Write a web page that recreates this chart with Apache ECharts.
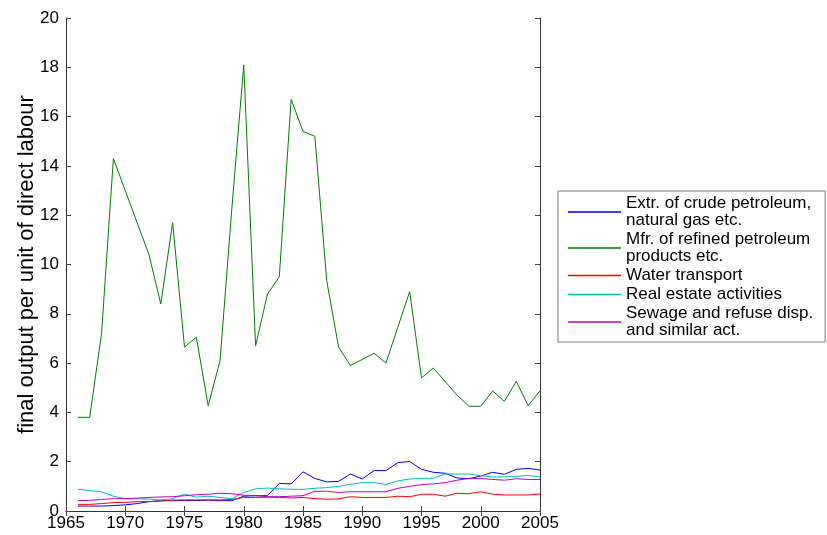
<!DOCTYPE html>
<html>
<head>
<meta charset="utf-8">
<script src="https://cdn.jsdelivr.net/npm/echarts@6/dist/echarts.min.js"></script>
<style>
html,body{margin:0;padding:0;background:#fff;}
#chart{width:827px;height:535px;}
</style>
</head>
<body>
<div id="chart"></div>
<script>
var years = [1966,1967,1968,1969,1970,1971,1972,1973,1974,1975,1976,1977,1978,1979,1980,1981,1982,1983,1984,1985,1986,1987,1988,1989,1990,1991,1992,1993,1994,1995,1996,1997,1998,1999,2000,2001,2002,2003,2004,2005];

var seriesNames = [
  "Extr. of crude petroleum,\nnatural gas etc.",
  "Mfr. of refined petroleum\nproducts etc.",
  "Water transport",
  "Real estate activities",
  "Sewage and refuse disp.\nand similar act."
];

var crudePetroleum = [0.2,0.2,0.2,0.22,0.25,0.3,0.38,0.42,0.42,0.43,0.42,0.44,0.42,0.42,0.6,0.62,0.62,1.12,1.1,1.59,1.32,1.18,1.2,1.5,1.3,1.64,1.64,1.96,2.01,1.69,1.57,1.53,1.34,1.31,1.42,1.57,1.49,1.69,1.73,1.66];

var refinedPetroleum = [3.8,3.8,7.2,14.3,13.0,11.7,10.4,8.4,11.7,6.65,7.05,4.27,6.1,12.3,18.1,6.7,8.8,9.5,16.7,15.4,15.2,9.35,6.65,5.9,6.15,6.4,6.0,7.45,8.9,5.4,5.8,5.25,4.7,4.25,4.25,4.87,4.45,5.26,4.27,4.88];

var waterTransport = [0.27,0.27,0.3,0.34,0.35,0.38,0.38,0.4,0.44,0.45,0.45,0.45,0.45,0.47,0.55,0.55,0.56,0.55,0.53,0.55,0.5,0.48,0.49,0.58,0.55,0.55,0.55,0.6,0.58,0.68,0.68,0.6,0.72,0.7,0.78,0.68,0.65,0.65,0.65,0.69];

var realEstate = [0.88,0.83,0.78,0.6,0.5,0.5,0.48,0.45,0.5,0.68,0.56,0.6,0.55,0.5,0.75,0.9,0.93,0.9,0.88,0.88,0.92,0.95,1.0,1.08,1.15,1.15,1.08,1.22,1.3,1.32,1.33,1.5,1.5,1.5,1.43,1.38,1.38,1.4,1.44,1.38];

var sewage = [0.42,0.43,0.47,0.5,0.5,0.52,0.55,0.57,0.58,0.62,0.66,0.68,0.72,0.7,0.64,0.62,0.58,0.58,0.6,0.62,0.8,0.8,0.75,0.78,0.78,0.78,0.78,0.92,1.0,1.07,1.1,1.15,1.25,1.32,1.32,1.28,1.25,1.31,1.28,1.28];

var seriesValues = [crudePetroleum, refinedPetroleum, waterTransport, realEstate, sewage];
var seriesColors = ['#0000ff', '#008000', '#ff0000', '#00bfbf', '#bf00bf'];

var xMin = 1965, xMax = 2005, xStep = 5;
var yMin = 0, yMax = 20, yStep = 2;
var yTitle = "final output per unit of direct labour";

function pairs(vals) {
  return years.map(function (y, i) { return [y, vals[i]]; });
}

var fontFam = '"Liberation Sans", Arial, sans-serif';
var axisLineStyle = { color: '#333', width: 1 };
var tickStyle = { color: '#444', width: 1 };

var chart = echarts.init(document.getElementById('chart'), null, { renderer: 'canvas' });

var option = {
  animation: false,
  backgroundColor: '#ffffff',
  grid: { left: 66, right: 287, top: 18, bottom: 24, containLabel: false },
  xAxis: [
    {
      type: 'value', min: xMin, max: xMax, interval: xStep, position: 'bottom',
      axisLine: { show: true, lineStyle: axisLineStyle },
      axisTick: { show: true, inside: true, length: 5, lineStyle: tickStyle },
      axisLabel: { color: '#000', fontSize: 17, fontFamily: fontFam, margin: 4,
        formatter: function (v) { return String(v); } },
      splitLine: { show: false }
    },
    {
      type: 'value', min: xMin, max: xMax, interval: xStep, position: 'top',
      axisLine: { show: true, lineStyle: axisLineStyle },
      axisTick: { show: true, inside: true, length: 5, lineStyle: tickStyle },
      axisLabel: { show: false },
      splitLine: { show: false }
    }
  ],
  yAxis: [
    {
      type: 'value', min: yMin, max: yMax, interval: yStep, position: 'left',
      name: yTitle, nameLocation: 'middle', nameGap: 28, nameMoveOverlap: false,
      nameTextStyle: { color: '#000', fontSize: 22, fontFamily: fontFam },
      axisLine: { show: true, lineStyle: axisLineStyle },
      axisTick: { show: true, inside: true, length: 5, lineStyle: tickStyle },
      axisLabel: { color: '#000', fontSize: 17, fontFamily: fontFam, margin: 7,
        formatter: function (v) { return String(v); } },
      splitLine: { show: false }
    },
    {
      type: 'value', min: yMin, max: yMax, interval: yStep, position: 'right',
      axisLine: { show: true, lineStyle: axisLineStyle },
      axisTick: { show: true, inside: true, length: 5, lineStyle: tickStyle },
      axisLabel: { show: false },
      splitLine: { show: false }
    }
  ],
  legend: {
    orient: 'vertical',
    left: 558, top: 191,
    padding: [4, 12, 3, 10],
    itemGap: 2,
    itemWidth: 53,
    itemHeight: 1.5,
    icon: 'rect',
    borderColor: '#777',
    borderWidth: 1,
    backgroundColor: '#fff',
    textStyle: { color: '#000', fontSize: 17, fontFamily: fontFam, lineHeight: 17 },
    data: seriesNames
  },
  series: seriesNames.map(function (name, i) {
    return {
      name: name,
      type: 'line',
      xAxisIndex: 0,
      yAxisIndex: 0,
      data: pairs(seriesValues[i]),
      showSymbol: false,
      symbol: 'none',
      color: seriesColors[i],
      lineStyle: { color: seriesColors[i], width: 1 },
      itemStyle: { color: seriesColors[i] },
      z: i === 1 ? 2 : 3
    };
  })
};

chart.setOption(option);
</script>
</body>
</html>
